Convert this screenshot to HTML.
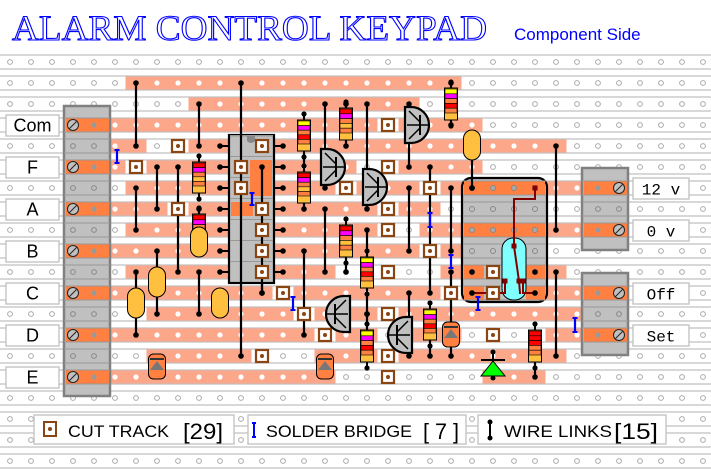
<!DOCTYPE html>
<html><head><meta charset="utf-8">
<style>
html,body{margin:0;padding:0;background:#fff;width:711px;height:472px;overflow:hidden}
svg{display:block}
</style></head>
<body>
<svg id="s" width="711" height="472" viewBox="0 0 711 472" xmlns="http://www.w3.org/2000/svg" font-family="Liberation Sans, sans-serif">
<text x="12" y="40" font-family="Liberation Serif, serif" font-size="36" fill="#fff" stroke="#0000ff" stroke-width="1.1" textLength="475" lengthAdjust="spacingAndGlyphs">ALARM CONTROL KEYPAD</text>
<text x="514" y="40" font-size="17" fill="#0000ff">Component Side</text>
<g id="g"></g>
</svg>
<script>
var X=function(c){return 10+21*c}, Y=function(r){return 62+21*r};
var o=[];
function a(s){o.push(s)}
var SAL="#FCA68A", DK="#FF8040", GR="#c0c0c0";
for(var r=0;r<20;r++){var y=Y(r);a('<line x1="0" x2="711" y1="'+(y-7)+'" y2="'+(y-7)+'" stroke="'+GR+'" stroke-width="1.3"/><line x1="0" x2="711" y1="'+(y+7)+'" y2="'+(y+7)+'" stroke="'+GR+'" stroke-width="1.3"/>');}
var seg={1:[[6,21]],2:[[9,19]],3:[[5,17],[19,22]],4:[[5,6],[9,26]],5:[[5,5],[7,16],[19,22]],6:[[6,15],[17,19],[21,27]],7:[[5,7],[9,17],[19,20]],8:[[6,17],[20,27]],9:[[5,19],[21,21]],10:[[6,15],[21,26]],11:[[5,12],[14,20],[22,27]],12:[[7,13],[15,17],[19,27]],13:[[5,14],[16,17],[19,21],[26,27]],14:[[7,11],[15,17],[19,26]],15:[[5,15],[23,25]]};
var on={};
for(var r in seg){seg[r].forEach(function(s){a('<rect x="'+(X(s[0])-10.5)+'" y="'+(Y(+r)-6.5)+'" width="'+(21*(s[1]-s[0]+1))+'" height="13" fill="'+SAL+'"/>');for(var c=s[0];c<=s[1];c++)on[r+','+c]=1;});}
for(var r=0;r<20;r++)for(var c=0;c<34;c++){var x=X(c),y=Y(r);if(on[r+','+c])a('<circle cx="'+x+'" cy="'+y+'" r="2.6" fill="#fff"/>');else a('<circle cx="'+x+'" cy="'+y+'" r="2.4" fill="#fff" stroke="#aaa" stroke-width="1"/>');}
function tb(x1,x2,y1,y2,rows,screwC,dotC){a('<rect x="'+x1+'" y="'+y1+'" width="'+(x2-x1)+'" height="'+(y2-y1)+'" fill="#c0c0c0" stroke="#808080" stroke-width="2.5"/>');
for(var r=0;r<20;r++){var y=Y(r);if(y-7>y1&&y+7<y2){a('<line x1="'+x1+'" x2="'+x2+'" y1="'+(y-7)+'" y2="'+(y-7)+'" stroke="#999"/><line x1="'+x1+'" x2="'+x2+'" y1="'+(y+7)+'" y2="'+(y+7)+'" stroke="#999"/>');
if(rows.indexOf(r)>=0){a('<rect x="'+(x1+2)+'" y="'+(y-6.5)+'" width="'+(x2-x1-3)+'" height="13" fill="'+DK+'"/><circle cx="'+X(screwC)+'" cy="'+y+'" r="5.5" fill="#c0c0c0" stroke="#222"/><line x1="'+(X(screwC)-3.5)+'" y1="'+(y+3.5)+'" x2="'+(X(screwC)+3.5)+'" y2="'+(y-3.5)+'" stroke="#222"/><circle cx="'+X(dotC)+'" cy="'+y+'" r="2.6" fill="#999"/>');}
else{a('<circle cx="'+X(screwC)+'" cy="'+y+'" r="2.4" fill="none" stroke="#888"/><circle cx="'+X(dotC)+'" cy="'+y+'" r="2.4" fill="none" stroke="#888"/>');}}}}
tb(64,110,106,396,[3,5,7,9,11,13,15],3,4);
tb(582,628,168,250,[6,8],29,28);
tb(582,628,273,355,[11,13],29,28);
function lab(x,y,w,t,mono){a('<rect x="'+x+'" y="'+(y-10)+'" width="'+w+'" height="21" fill="#fff" stroke="#c0c0c0" stroke-width="1.3"/><text x="'+(x+w/2)+'" y="'+(y+6.5)+'" text-anchor="middle" font-size="'+(mono?16:18)+'" '+(mono?'font-family="Liberation Mono, monospace"':'')+'>'+t+'</text>')}
[['Com',3],['F',5],['A',7],['B',9],['C',11],['D',13],['E',15]].forEach(function(l){lab(6,Y(l[1]),53,l[0])});
[['12 v',6],['0 v',8],['Off',11],['Set',13]].forEach(function(l){lab(633,Y(l[1]),56,l[0],1)});
a('<rect x="462" y="178" width="85" height="124" rx="9" fill="#c0c0c0" stroke="#000" stroke-width="2.2"/>');
[6,7,8,9,10,11].forEach(function(r){var y=Y(r);a('<line x1="463" x2="546" y1="'+(y-7)+'" y2="'+(y-7)+'" stroke="#999"/><line x1="463" x2="546" y1="'+(y+7)+'" y2="'+(y+7)+'" stroke="#999"/>')});
a('<rect x="464" y="181.5" width="81" height="13" fill="'+DK+'"/><rect x="464" y="223.5" width="81" height="13" fill="'+DK+'"/>');
a('<rect x="464" y="265.5" width="20" height="13" fill="'+DK+'"/><rect x="464" y="286.5" width="20" height="13" fill="'+DK+'"/><rect x="526" y="265.5" width="19" height="13" fill="'+DK+'"/><rect x="526" y="286.5" width="19" height="13" fill="'+DK+'"/>');
[6,7,8,9,10,11].forEach(function(r){[22,23,24,25].forEach(function(c){a('<circle cx="'+X(c)+'" cy="'+Y(r)+'" r="2.5" fill="'+((r==6||r==8)?'#aaa':'none')+'" stroke="#888"/>')})});
a('<rect x="502" y="238" width="24" height="62" rx="11" fill="#80ffff" stroke="#000"/>');
a('<polyline points="535,188 535,199 514,199 514,246 519,281 520,293 520,294" fill="none" stroke="#800000" stroke-width="2"/><polyline points="505,281 505,293 472,293" fill="none" stroke="#800000" stroke-width="2"/><polyline points="523,281 523,293 535,293" fill="none" stroke="#800000" stroke-width="2"/>');
[[535,188],[514,246],[505,281],[519,281],[523,281]].forEach(function(p){a('<rect x="'+(p[0]-2.5)+'" y="'+(p[1]-2.5)+'" width="5" height="5" fill="#800000"/>')});
[[472,188],[472,272],[472,293],[535,272],[535,293]].forEach(function(p){a('<circle cx="'+p[0]+'" cy="'+p[1]+'" r="2.8" fill="#000"/>')});
function w(c,r1,r2){var x=X(c);a('<line x1="'+x+'" x2="'+x+'" y1="'+Y(r1)+'" y2="'+Y(r2)+'" stroke="#000" stroke-width="2.2"/><circle cx="'+x+'" cy="'+Y(r1)+'" r="2.8"/><circle cx="'+x+'" cy="'+Y(r2)+'" r="2.8"/>')}
[[6,1,4],[9,2,4],[15,2,6],[6,6,8],[7,5,7],[8,5,10],[9,10,12],[6,10,13],[7,9,12],[14,9,13],[15,7,10],[17,2,7],[19,2,5],[19,6,9],[20,5,11],[21,6,9],[21,10,14],[26,4,8],[26,10,14],[17,8,12],[19,11,14],[9,7,9],[14,4,7],[16,2,4],[16,8,10],[17,12,14],[20,12,14],[25,13,15],[21,1,3],[22,4,6],[12,5,11]].forEach(function(q){w(q[0],q[1],q[2])});
a('<rect x="229" y="135" width="45" height="148" fill="#c0c0c0" stroke="#000" stroke-width="2.2"/><path d="M247,136 v5 q4,4 8,0 v-5z" fill="#888"/>');
for(var r=4;r<=10;r++){var y=Y(r);a('<line x1="'+X(10)+'" x2="229" y1="'+y+'" y2="'+y+'" stroke="#000" stroke-width="2"/><circle cx="'+X(10)+'" cy="'+y+'" r="2.8"/><line x1="274" x2="'+X(13)+'" y1="'+y+'" y2="'+y+'" stroke="#000" stroke-width="2"/><circle cx="'+X(13)+'" cy="'+y+'" r="2.8"/><line x1="230" x2="273" y1="'+(y-10.5)+'" y2="'+(y-10.5)+'" stroke="#999"/>');}
a('<rect x="250" y="160" width="22" height="36" fill="'+DK+'"/><rect x="231" y="202" width="22" height="14" fill="'+DK+'"/>');
w(11,1,14);w(12,5,11);
[[8,4],[8,7],[6,5],[11,5],[11,6],[12,4],[12,7],[12,8],[12,9],[12,10],[12,14],[16,6],[18,3],[18,5],[18,7],[18,8],[18,10],[18,12],[18,14],[18,15],[20,6],[20,9],[13,11],[14,12],[15,13],[21,11],[23,10],[23,11],[23,13]].forEach(function(p){var x=X(p[0]),y=Y(p[1]);a('<rect x="'+(x-6)+'" y="'+(y-6)+'" width="12" height="12" fill="#fff" stroke="#8B4513" stroke-width="2.2"/><circle cx="'+x+'" cy="'+y+'" r="2" fill="#8B4513"/>')});
function res(x,y1,y2,bands){var h=y2-y1;a('<line x1="'+x+'" x2="'+x+'" y1="'+(y1-6)+'" y2="'+(y2+6)+'" stroke="#000" stroke-width="2"/><circle cx="'+x+'" cy="'+(y1-6)+'" r="2.6"/><circle cx="'+x+'" cy="'+(y2+6)+'" r="2.6"/><rect x="'+(x-6.5)+'" y="'+y1+'" width="13" height="'+h+'" fill="#FFC040" stroke="#000"/>');
var bh=(h-8)/5;bands.forEach(function(b,i){a('<rect x="'+(x-6)+'" y="'+(y1+1+i*bh)+'" width="12" height="'+bh+'" fill="'+b+'" stroke="#000" stroke-width=".6"/>')});}
var RM=["#ff0000","#ff00ff","#FF8040","#FFC040","#FF8040"],YM=["#ffff00","#ff00ff","#FF8040","#ff0000","#FF8040"],RR=["#ff0000","#ff0000","#ff0000","#FF8040","#FF8040"];
res(199,162,193,RM);res(199,214,246,RM);res(304,120,151,YM);res(304,172,203,RM);res(346,108,140,RM);res(451,88,120,YM);res(346,225,257,RM);res(367,257,288,YM);res(367,330,362,YM);res(430,309,340,YM);res(535,330,362,RR);
[[199,242,227],[157,282,267],[136,303,288],[220,303,288],[472,145,130]].forEach(function(p){a('<rect x="'+(p[0]-8.5)+'" y="'+p[2]+'" width="17" height="30" rx="8.5" fill="#FFC040" stroke="#000"/>')});
function tr(x,y,dir){var d=dir>0?'M'+x+','+(y-18)+' h6 a18,18 0 0 1 0,36 h-6z':'M'+x+','+(y-18)+' h-6 a18,18 0 0 0 0,36 h6z';a('<path d="'+d+'" fill="#c0c0c0" stroke="#000" stroke-width="2.2"/><line x1="'+(x+dir*15)+'" x2="'+(x+dir*15)+'" y1="'+(y-10)+'" y2="'+(y+10)+'" stroke="#000" stroke-width="2"/><line x1="'+(x+dir*2)+'" x2="'+(x+dir*24)+'" y1="'+y+'" y2="'+y+'" stroke="#000" stroke-width="1.5"/><line x1="'+(x+dir*15)+'" x2="'+(x+dir*4)+'" y1="'+(y-3)+'" y2="'+(y-14)+'" stroke="#000" stroke-width="1.5"/><line x1="'+(x+dir*15)+'" x2="'+(x+dir*4)+'" y1="'+(y+3)+'" y2="'+(y+14)+'" stroke="#000" stroke-width="1.5"/>')}
tr(321,167,1);tr(363,187,1);tr(405,125,1);tr(350,314,-1);tr(412,335,-1);
[[157,366],[325,366],[451,334]].forEach(function(p){a('<rect x="'+(p[0]-8.5)+'" y="'+(p[1]-12)+'" width="17" height="25" rx="5" fill="'+DK+'" stroke="#000"/><line x1="'+(p[0]-7)+'" x2="'+(p[0]+7)+'" y1="'+(p[1]-7)+'" y2="'+(p[1]-7)+'" stroke="#333" stroke-width="2"/><path d="M'+(p[0]-7)+','+(p[1]+4)+' L'+p[0]+','+(p[1]-5)+' L'+(p[0]+7)+','+(p[1]+4)+'z" fill="#777"/>')});
a('<line x1="493" x2="493" y1="352" y2="378" stroke="#000" stroke-width="2"/><line x1="481" x2="505" y1="360" y2="360" stroke="#000" stroke-width="2"/><path d="M493,361 L481,376 L505,376z" fill="#00ff00" stroke="#000"/><circle cx="493" cy="378" r="2.5"/><circle cx="493" cy="352" r="2.5"/>');
[[117,150,163],[252,193,205],[293,297,310],[430,213,227],[451,255,268],[478,297,310],[575,318,332]].forEach(function(p){a('<line x1="'+p[0]+'" x2="'+p[0]+'" y1="'+p[1]+'" y2="'+p[2]+'" stroke="#0000ff" stroke-width="2.2"/><line x1="'+(p[0]-2.5)+'" x2="'+(p[0]+2.5)+'" y1="'+p[1]+'" y2="'+p[1]+'" stroke="#0000ff" stroke-width="2"/><line x1="'+(p[0]-2.5)+'" x2="'+(p[0]+2.5)+'" y1="'+p[2]+'" y2="'+p[2]+'" stroke="#0000ff" stroke-width="2"/>')});
function box(x,w){a('<rect x="'+x+'" y="415" width="'+w+'" height="29" fill="#fff" stroke="#c0c0c0" stroke-width="1.3"/>')}
box(34,200);box(248,218);box(478,188);
a('<rect x="44" y="422" width="12" height="14" fill="#fff" stroke="#8B4513" stroke-width="2"/><circle cx="50" cy="429" r="2" fill="#8B4513"/><text x="68" y="437" font-size="17" textLength="101" lengthAdjust="spacingAndGlyphs">CUT TRACK</text><text x="183" y="439" font-size="22" textLength="40" lengthAdjust="spacingAndGlyphs">[29]</text>');
a('<line x1="254" x2="254" y1="423" y2="437" stroke="#0000ff" stroke-width="2"/><line x1="252" x2="256" y1="423" y2="423" stroke="#0000ff" stroke-width="2"/><line x1="252" x2="256" y1="437" y2="437" stroke="#0000ff" stroke-width="2"/><text x="266" y="437" font-size="17" textLength="146" lengthAdjust="spacingAndGlyphs">SOLDER BRIDGE</text><text x="423" y="439" font-size="22" textLength="36" lengthAdjust="spacingAndGlyphs">[ 7 ]</text>');
a('<line x1="490" x2="490" y1="422" y2="438" stroke="#000" stroke-width="2"/><circle cx="490" cy="422" r="2.5"/><circle cx="490" cy="438" r="2.5"/><text x="504" y="437" font-size="17" textLength="108" lengthAdjust="spacingAndGlyphs">WIRE LINKS</text><text x="614" y="439" font-size="22" textLength="44" lengthAdjust="spacingAndGlyphs">[15]</text>');
document.getElementById('g').innerHTML=o.join('');
</script>
</body></html>
